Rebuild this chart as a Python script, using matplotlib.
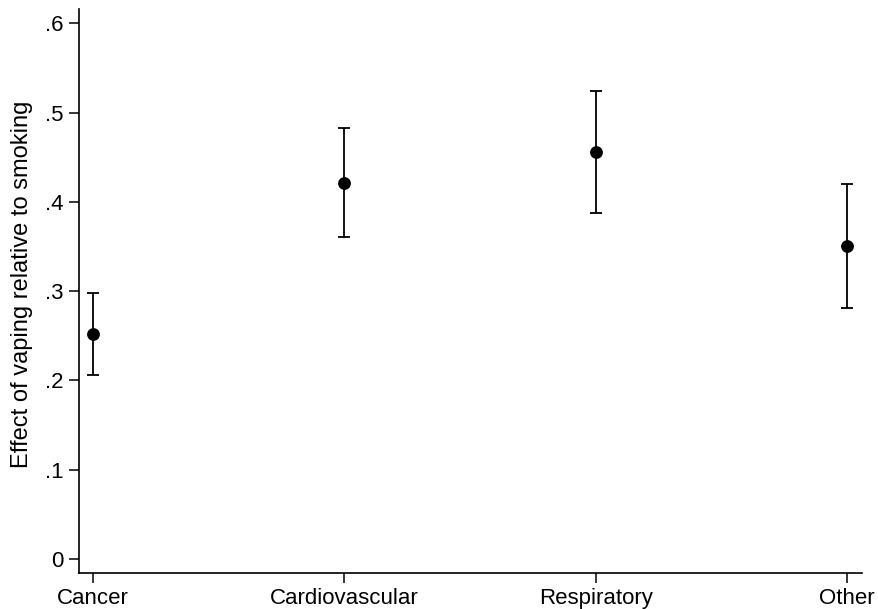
import matplotlib
matplotlib.use("Agg")
import matplotlib.pyplot as plt

plt.rcParams["font.family"] = ["Liberation Sans", "DejaVu Sans"]

# data
categories = ["Cancer", "Cardiovascular", "Respiratory", "Other"]
estimates = [0.252, 0.421, 0.456, 0.351]
ci_low = [0.206, 0.361, 0.387, 0.281]
ci_high = [0.298, 0.483, 0.524, 0.420]
y_ticks = [0, 0.1, 0.2, 0.3, 0.4, 0.5, 0.6]
y_tick_labels = ["0", ".1", ".2", ".3", ".4", ".5", ".6"]

fig = plt.figure(figsize=(8.79, 6.09), dpi=100)
ax = fig.add_axes([0.0899, 0.0591, 0.8908, 0.9261])

x = list(range(len(categories)))
err_lo = [e - l for e, l in zip(estimates, ci_low)]
err_hi = [h - e for e, h in zip(estimates, ci_high)]

ax.errorbar(x, estimates, yerr=[err_lo, err_hi], fmt="o", color="black",
            markersize=8.2, elinewidth=1.3, capsize=4.1, capthick=1.3)

ax.set_xlim(-0.056, 3.06)
ax.set_ylim(-0.0157, 0.616)
ax.set_xticks(x)
ax.set_xticklabels(categories)
ax.set_yticks(y_ticks)
ax.set_yticklabels(y_tick_labels)
ax.set_ylabel("Effect of vaping relative to smoking", fontsize=17)
ax.yaxis.set_label_coords(-0.059, 0.512)

for side in ["top", "right"]:
    ax.spines[side].set_visible(False)
for side in ["left", "bottom"]:
    ax.spines[side].set_linewidth(1.2)
ax.tick_params(axis="both", labelsize=16, length=7, width=1.1, pad=4)

fig.savefig("out.png", dpi=100)
